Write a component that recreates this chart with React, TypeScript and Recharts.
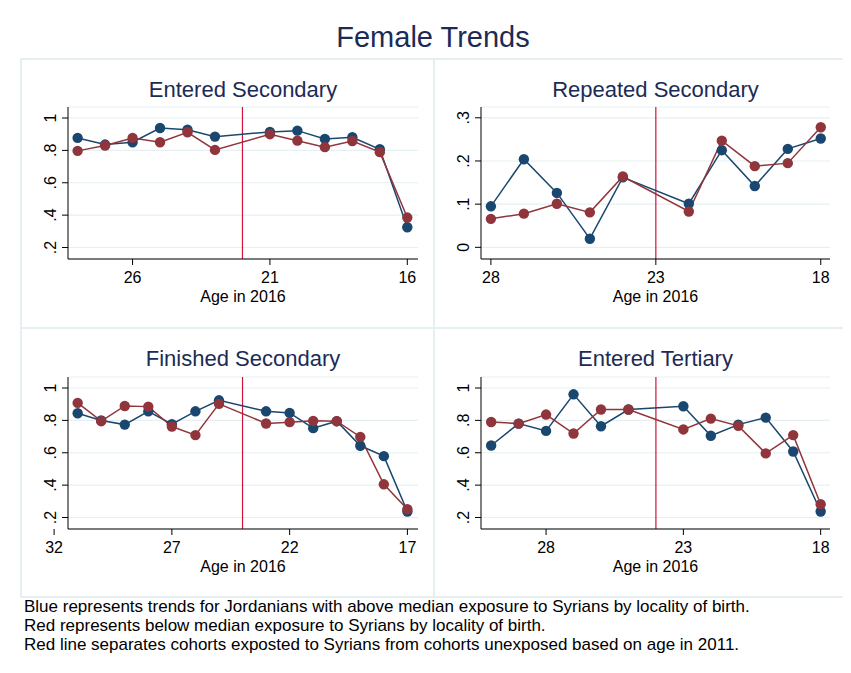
import React from 'react'
import { LineChart, Line, XAxis, YAxis, CartesianGrid, ReferenceLine } from 'recharts'

const BLUE = '#1a476f'
const RED = '#90353b'
const CUT = '#d0143c'
const FRAME = '#e6eff2'
const NAVY = '#1c2b55'

// Entered Secondary
const enteredSecAges = [28, 27, 26, 25, 24, 23, 21, 20, 19, 18, 17, 16]
const enteredSecBlue = [0.877, 0.836, 0.85, 0.938, 0.928, 0.885, 0.914, 0.922, 0.871, 0.881, 0.807, 0.325]
const enteredSecRed = [0.797, 0.83, 0.877, 0.85, 0.912, 0.803, 0.9, 0.86, 0.82, 0.858, 0.789, 0.385]

// Repeated Secondary
const repeatedSecAges = [28, 27, 26, 25, 24, 22, 21, 20, 19, 18]
const repeatedSecBlue = [0.095, 0.204, 0.126, 0.02, 0.162, 0.101, 0.225, 0.142, 0.228, 0.252]
const repeatedSecRed = [0.066, 0.078, 0.101, 0.081, 0.164, 0.083, 0.247, 0.188, 0.195, 0.278]

// Finished Secondary
const finishedSecAges = [31, 30, 29, 28, 27, 26, 25, 23, 22, 21, 20, 19, 18, 17]
const finishedSecBlue = [0.844, 0.799, 0.774, 0.856, 0.776, 0.856, 0.924, 0.856, 0.846, 0.752, 0.795, 0.643, 0.579, 0.237]
const finishedSecRed = [0.908, 0.795, 0.889, 0.885, 0.762, 0.709, 0.902, 0.781, 0.789, 0.797, 0.795, 0.698, 0.405, 0.251]

// Entered Tertiary
const enteredTerAges = [30, 29, 28, 27, 26, 25, 23, 22, 21, 20, 19, 18]
const enteredTerBlue = [0.645, 0.78, 0.735, 0.961, 0.764, 0.867, 0.887, 0.705, 0.774, 0.817, 0.608, 0.237]
const enteredTerRed = [0.79, 0.78, 0.836, 0.719, 0.867, 0.867, 0.744, 0.811, 0.766, 0.596, 0.709, 0.282]

const shareTicks = [0.2, 0.4, 0.6, 0.8, 1]
const repeatTicks = [0, 0.1, 0.2, 0.3]

const footnotes = [
  'Blue represents trends for Jordanians with above median exposure to Syrians by locality of birth.',
  'Red represents below median exposure to Syrians by locality of birth.',
  'Red line separates cohorts exposted to Syrians from cohorts unexposed based on age in 2011.',
]

const toRows = (ages: number[], blue: number[], red: number[]) =>
  ages.map((age, i) => ({ age, blue: blue[i], red: red[i] }))

const fmtY = (v: number) => (v === 0 ? '0' : v === 1 ? '1' : String(v).replace(/^0/, ''))

const YTick = (props: any) => {
  const { x, y, payload } = props
  return (
    <text x={x} y={y} transform={`rotate(-90 ${x} ${y})`} textAnchor="middle" fontSize={16} fill="#000">
      {fmtY(payload.value)}
    </text>
  )
}

interface PanelProps {
  left: number
  top: number
  title: string
  rows: { age: number; blue: number; red: number }[]
  xDomain: [number, number]
  xTicks: number[]
  yDomain: [number, number]
  yTicks: number[]
  cutoff: number
  marginRight: number
  marginTop: number
  yWidth: number
  xHeight: number
}

function Panel(p: PanelProps) {
  const plotW = 413 - p.yWidth - p.marginRight
  return (
    <>
      <div
        style={{
          position: 'absolute',
          left: p.left + p.yWidth,
          top: p.top + 18,
          width: plotW,
          textAlign: 'center',
          fontSize: 22,
          lineHeight: '26px',
          color: NAVY,
        }}
      >
        {p.title}
      </div>
      <div style={{ position: 'absolute', left: p.left, top: p.top }}>
        <LineChart width={413} height={269} data={p.rows} margin={{ top: p.marginTop, right: p.marginRight, left: 0, bottom: 0 }}>
          <CartesianGrid horizontal vertical={false} stroke="#e6eff2" strokeWidth={1.2} />
          <XAxis
            dataKey="age"
            type="number"
            reversed
            domain={p.xDomain}
            allowDataOverflow
            ticks={p.xTicks}
            interval={0}
            height={p.xHeight}
            tickSize={6}
            tickMargin={7}
            stroke="#000"
            tick={{ fill: '#000', fontSize: 16 }}
            label={{ value: 'Age in 2016', position: 'insideTop', offset: 32, fill: '#000', fontSize: 16 }}
          />
          <YAxis
            type="number"
            domain={p.yDomain}
            allowDataOverflow
            ticks={p.yTicks}
            interval={0}
            width={p.yWidth}
            tickSize={6}
            tickMargin={6}
            stroke="#000"
            tick={<YTick />}
          />
          <ReferenceLine x={p.cutoff} stroke={CUT} strokeWidth={1.2} />
          <Line
            type="linear"
            dataKey="blue"
            stroke={BLUE}
            strokeWidth={1.5}
            dot={{ r: 5.2, fill: BLUE, stroke: BLUE, strokeWidth: 0 }}
            isAnimationActive={false}
          />
          <Line
            type="linear"
            dataKey="red"
            stroke={RED}
            strokeWidth={1.5}
            dot={{ r: 5.2, fill: RED, stroke: RED, strokeWidth: 0 }}
            isAnimationActive={false}
          />
        </LineChart>
      </div>
    </>
  )
}

export default function App() {
  const line = (s: React.CSSProperties) => <div style={{ position: 'absolute', background: FRAME, ...s }} />
  return (
    <div
      style={{
        position: 'relative',
        width: 851,
        height: 673,
        margin: -8,
        background: '#fff',
        overflow: 'hidden',
        fontFamily: '"Liberation Sans", Arial, Helvetica, sans-serif',
      }}
    >
      <div style={{ position: 'absolute', left: 6, top: 3, width: 900, height: 700, border: `1.5px solid ${FRAME}` }} />
      <div
        style={{
          position: 'absolute',
          left: 0,
          top: 20,
          width: 866,
          textAlign: 'center',
          fontSize: 29,
          lineHeight: '34px',
          color: NAVY,
        }}
      >
        Female Trends
      </div>

      {line({ left: 21, top: 58, width: 826, height: 2 })}
      {line({ left: 21, top: 596, width: 826, height: 2 })}
      {line({ left: 20, top: 58, width: 2, height: 540 })}
      {line({ left: 846, top: 58, width: 2, height: 540 })}
      {line({ left: 433, top: 58, width: 2, height: 540 })}
      {line({ left: 21, top: 327, width: 826, height: 2 })}

      <Panel
        left={21}
        top={59}
        title="Entered Secondary"
        rows={toRows(enteredSecAges, enteredSecBlue, enteredSecRed)}
        xDomain={[15.61, 28.35]}
        xTicks={[26, 21, 16]}
        yDomain={[0.129, 1.068]}
        yTicks={shareTicks}
        cutoff={22}
        marginRight={16}
        marginTop={48}
        yWidth={47}
        xHeight={69}
      />
      <Panel
        left={434}
        top={59}
        title="Repeated Secondary"
        rows={toRows(repeatedSecAges, repeatedSecBlue, repeatedSecRed)}
        xDomain={[17.72, 28.3]}
        xTicks={[28, 23, 18]}
        yDomain={[-0.027, 0.325]}
        yTicks={repeatTicks}
        cutoff={23}
        marginRight={17}
        marginTop={48}
        yWidth={47}
        xHeight={69}
      />
      <Panel
        left={21}
        top={328}
        title="Finished Secondary"
        rows={toRows(finishedSecAges, finishedSecBlue, finishedSecRed)}
        xDomain={[16.55, 31.41]}
        xTicks={[32, 27, 22, 17]}
        yDomain={[0.129, 1.068]}
        yTicks={shareTicks}
        cutoff={24}
        marginRight={16}
        marginTop={49}
        yWidth={47}
        xHeight={68}
      />
      <Panel
        left={434}
        top={328}
        title="Entered Tertiary"
        rows={toRows(enteredTerAges, enteredTerBlue, enteredTerRed)}
        xDomain={[17.66, 30.37]}
        xTicks={[28, 23, 18]}
        yDomain={[0.129, 1.068]}
        yTicks={shareTicks}
        cutoff={24}
        marginRight={17}
        marginTop={49}
        yWidth={47}
        xHeight={68}
      />

      <div style={{ position: 'absolute', left: 24, top: 597, fontSize: 17, lineHeight: '19px', color: '#000' }}>
        {footnotes.map((t) => (
          <div key={t}>{t}</div>
        ))}
      </div>
    </div>
  )
}
